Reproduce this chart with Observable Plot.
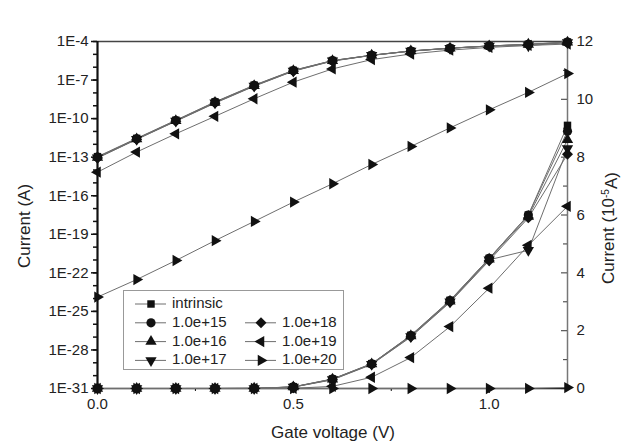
<!DOCTYPE html>
<html><head><meta charset="utf-8">
<script src="https://cdn.jsdelivr.net/npm/d3@7"></script>
<script src="https://cdn.jsdelivr.net/npm/@observablehq/plot@0.6"></script>
<style>
body{margin:0;background:#fff;}
#wrap{position:relative;width:624px;height:446px;font-family:"Liberation Sans",Arial,sans-serif;}
#legend{position:absolute;left:0;top:0;}
</style></head><body><div id="wrap"></div>
<script>
// ---- data ----
const voltage = [0, 0.1, 0.2, 0.3, 0.4, 0.5, 0.6, 0.7, 0.8, 0.9, 1.0, 1.1, 1.2];
const seriesNames = ["intrinsic", "1.0e+15", "1.0e+16", "1.0e+17", "1.0e+18", "1.0e+19", "1.0e+20"];
// current in A
const intrinsic = [1.1e-13, 2.9e-12, 7.5e-11, 2.0e-9, 4.0e-8, 5.7e-7, 3.3e-6, 8.6e-6, 1.84e-5, 3.05e-5, 4.50e-5, 6.0e-5, 9.1e-5];
const dop1e15  = [1.0e-13, 2.7e-12, 7.1e-11, 1.9e-9, 3.8e-8, 5.5e-7, 3.25e-6, 8.5e-6, 1.83e-5, 3.04e-5, 4.50e-5, 6.0e-5, 8.9e-5];
const dop1e16  = [9.5e-14, 2.6e-12, 6.8e-11, 1.8e-9, 3.6e-8, 5.3e-7, 3.2e-6, 8.5e-6, 1.82e-5, 3.02e-5, 4.47e-5, 5.95e-5, 8.6e-5];
const dop1e17  = [9.0e-14, 2.5e-12, 6.5e-11, 1.7e-9, 3.5e-8, 5.1e-7, 3.1e-6, 8.4e-6, 1.80e-5, 3.00e-5, 4.45e-5, 4.78e-5, 8.3e-5];
const dop1e18  = [8.5e-14, 2.4e-12, 6.2e-11, 1.6e-9, 3.3e-8, 4.9e-7, 3.0e-6, 8.3e-6, 1.78e-5, 2.98e-5, 4.42e-5, 5.9e-5, 8.1e-5];
const dop1e19  = [6.8e-15, 2.5e-13, 6.6e-12, 1.5e-10, 3.5e-9, 6.9e-8, 7.4e-7, 3.9e-6, 1.07e-5, 2.14e-5, 3.47e-5, 4.95e-5, 6.3e-5];
const dop1e20  = [1.3e-24, 3.0e-23, 9.1e-22, 3.2e-20, 1.0e-18, 3.2e-17, 8.5e-16, 2.7e-14, 6.8e-13, 1.9e-11, 4.8e-10, 1.1e-8, 3.2e-7];
const leftTickExponents = [-4, -7, -10, -13, -16, -19, -22, -25, -28, -31];
const rightTickValues = [0, 2, 4, 6, 8, 10, 12];      // ×1e-5 A
const rightMinorValues = [1, 3, 5, 7, 9, 11];
const xTickValues = [0, 0.5, 1.0];
const xMinorValues = [0.25, 0.75];

// ---- symbols ----
const triDown = {draw(c, s){const y=-Math.sqrt(s/(Math.sqrt(3)*3)), k=Math.sqrt(3);c.moveTo(0,-2*y);c.lineTo(-k*y,y);c.lineTo(k*y,y);c.closePath();}};
const triLeft = {draw(c, s){const y=-Math.sqrt(s/(Math.sqrt(3)*3)), k=Math.sqrt(3);c.moveTo(2*y,0);c.lineTo(-y,-k*y);c.lineTo(-y,k*y);c.closePath();}};
const triRight = {draw(c, s){const y=-Math.sqrt(s/(Math.sqrt(3)*3)), k=Math.sqrt(3);c.moveTo(-2*y,0);c.lineTo(y,-k*y);c.lineTo(y,k*y);c.closePath();}};
const diamondWide = {draw(c, s){const r=Math.sqrt(s/2)*0.95;c.moveTo(0,-r);c.lineTo(r,0);c.lineTo(0,r);c.lineTo(-r,0);c.closePath();}};
const symbols = [d3.symbolSquare, d3.symbolCircle, d3.symbolTriangle, triDown, diamondWide, triLeft, triRight];
const symR = [4.2, 4.6, 4.2, 4.2, 4.6, 4.2, 4.2];

const series = [intrinsic, dop1e15, dop1e16, dop1e17, dop1e18, dop1e19, dop1e20];

// right (linear) axis mapped into the left (log) scale's range
const LOG_MIN = -31, LOG_MAX = -4, LIN_MAX = 12e-5;
const linPos = v => 10 ** (LOG_MIN + (LOG_MAX - LOG_MIN) * (v / LIN_MAX));

const W = 624, H = 446, mL = 97, mR = 57, mT = 41, mB = 58;
const innerW = W - mL - mR;

const lineStroke = "#6e6e6e";
const marks = [];
series.forEach((vals, i) => {
  const rows = vals.map((v, j) => ({x: voltage[j], v, s: seriesNames[i]}));
  marks.push(Plot.line(rows, {x: "x", y: "v", stroke: lineStroke, strokeWidth: 1}));
  marks.push(Plot.line(rows, {x: "x", y: d => linPos(d.v), stroke: lineStroke, strokeWidth: 1}));
});
series.forEach((vals, i) => {
  const rows = vals.map((v, j) => ({x: voltage[j], v, s: seriesNames[i]}));
  marks.push(Plot.dot(rows, {x: "x", y: "v", symbol: symbols[i], r: symR[i], fill: "#111", stroke: "none"}));
  marks.push(Plot.dot(rows, {x: "x", y: d => linPos(d.v), symbol: symbols[i], r: symR[i], fill: "#111", stroke: "none"}));
});

const decades = d3.range(-31, -3).map(e => 10 ** e);

const chart = Plot.plot({
  width: W, height: H,
  marginLeft: mL, marginRight: mR, marginTop: mT, marginBottom: mB,
  style: {fontFamily: '"Liberation Sans", Arial, sans-serif', fontSize: "15px", color: "#222", background: "#fff"},
  x: {domain: [0, 1.2]},
  y: {type: "log", domain: [1e-31, 1e-4]},
  marks: [
    // frame lines
    Plot.ruleY([1e-4], {stroke: "#444", strokeWidth: 1.5}),
    Plot.ruleX([1.2], {stroke: "#777", strokeWidth: 1.5}),
    // left axis
    Plot.axisY({anchor: "left", ticks: decades, tickSize: 4, tickFormat: () => "", label: null, strokeWidth: 1.5, stroke: "#111"}),
    Plot.axisY({anchor: "left", ticks: leftTickExponents.map(e => 10 ** e), tickSize: 6, tickPadding: 3,
      tickFormat: d => "1E" + Math.round(Math.log10(d)), label: null, strokeWidth: 1.5, stroke: "#111"}),
    // right axis (inward ticks)
    Plot.tickY(rightTickValues.map(u => linPos(u * 1e-5)), {y: d => d, insetLeft: innerW - 6, stroke: "#555", strokeWidth: 1.2}),
    Plot.tickY(rightMinorValues.map(u => linPos(u * 1e-5)), {y: d => d, insetLeft: innerW - 4, stroke: "#555", strokeWidth: 1.2}),
    Plot.axisY({anchor: "right", ticks: rightTickValues.map(u => linPos(u * 1e-5)), tickSize: 0, tickPadding: 9,
      tickFormat: d => String(Math.round((Math.log10(d) - LOG_MIN) / (LOG_MAX - LOG_MIN) * 12)), label: null}),
    // bottom axis
    Plot.axisX({ticks: xMinorValues, tickSize: 3, tickFormat: () => "", label: null, stroke: "#111"}),
    Plot.axisX({ticks: xTickValues, tickSize: 5, tickPadding: 5, tickFormat: d3.format(".1f"), label: null, stroke: "#111", strokeWidth: 1.3}),
    Plot.ruleY([1e-31], {stroke: "#111", strokeWidth: 1.5}),
    Plot.ruleX([0], {stroke: "#111", strokeWidth: 2.2}),
    ...marks
  ]
});

const svg = d3.select(chart);
const titleFont = "17px";
svg.append("text").attr("transform", "translate(26,226) rotate(-90)")
  .attr("text-anchor", "middle").attr("dominant-baseline", "middle")
  .attr("fill", "#222").style("font-size", titleFont).text("Current (A)");
const rt = svg.append("text").attr("transform", "translate(610,228) rotate(-90)")
  .attr("text-anchor", "middle").attr("dominant-baseline", "middle")
  .attr("fill", "#222").style("font-size", titleFont);
rt.append("tspan").text("Current (10");
rt.append("tspan").attr("dy", "-0.45em").style("font-size", "10px").text("-5");
rt.append("tspan").attr("dy", "0.45em").text("A)");
svg.append("text").attr("x", 333).attr("y", 438).attr("text-anchor", "middle")
  .attr("fill", "#222").style("font-size", titleFont).text("Gate voltage (V)");

const wrap = document.getElementById("wrap");
wrap.appendChild(chart);

// legend overlay
const lg = d3.select(wrap).append("svg").attr("id", "legend").attr("width", W).attr("height", H)
  .style("position", "absolute").style("left", "0px").style("top", "0px");
lg.append("rect").attr("x", 123.5).attr("y", 290.5).attr("width", 220).attr("height", 79)
  .attr("fill", "#fff").attr("stroke", "#999").attr("stroke-width", 1);
const slots = [[0,0],[0,1],[0,2],[0,3],[1,1],[1,2],[1,3]];
seriesNames.forEach((name, i) => {
  const [col, row] = slots[i];
  const x0 = col === 0 ? 135 : 245;
  const y0 = 304 + row * 18.8;
  lg.append("line").attr("x1", x0).attr("x2", x0 + 31).attr("y1", y0).attr("y2", y0)
    .attr("stroke", lineStroke).attr("stroke-width", 1);
  lg.append("path").attr("transform", `translate(${x0 + 16},${y0})`)
    .attr("d", d3.symbol(symbols[i], symR[i] * symR[i] * Math.PI)()).attr("fill", "#111");
  lg.append("text").attr("x", x0 + 37).attr("y", y0).attr("dominant-baseline", "middle")
    .attr("fill", "#222").style("font-size", "15px").style("font-family", '"Liberation Sans", Arial, sans-serif').text(name);
});
</script></body></html>
